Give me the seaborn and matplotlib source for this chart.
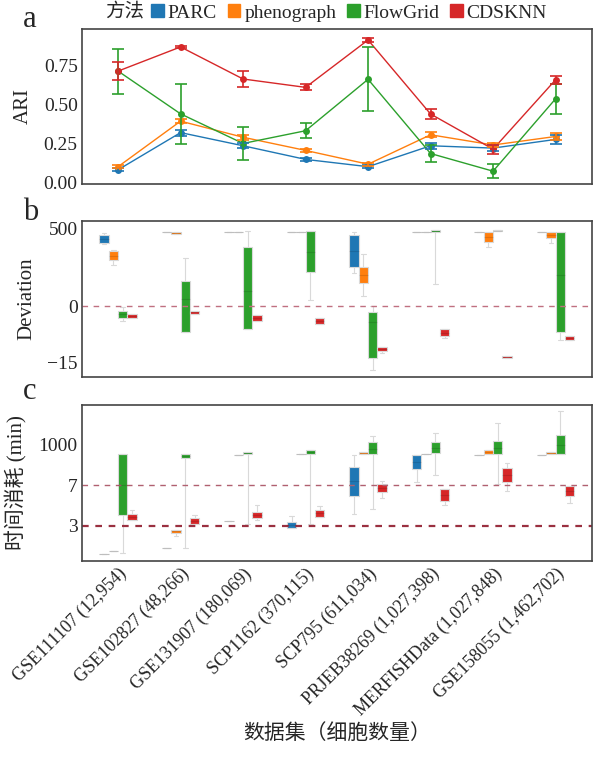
import numpy as np
import pandas as pd
import seaborn as sns
import matplotlib.pyplot as plt
from matplotlib.patches import Patch

datasets = ["GSE111107 (12,954)", "GSE102827 (48,266)", "GSE131907 (180,069)",
            "SCP1162 (370,115)", "SCP795 (611,034)", "PRJEB38269 (1,027,398)",
            "MERFISHData (1,027,848)", "GSE158055 (1,462,702)"]
methods = ["PARC", "phenograph", "FlowGrid", "CDSKNN"]
colors = ["#1f77b4", "#ff7f0e", "#2ca02c", "#d62728"]

# panel a: ARI mean and error
ari_parc = [0.08, 0.32, 0.235, 0.147, 0.10, 0.235, 0.22, 0.276]
ari_pheno = [0.10, 0.394, 0.29, 0.205, 0.116, 0.306, 0.24, 0.295]
ari_flow = [0.717, 0.441, 0.25, 0.332, 0.664, 0.185, 0.071, 0.538]
ari_cds = [0.717, 0.873, 0.666, 0.612, 0.918, 0.44, 0.213, 0.661]
err_parc = [0.01, 0.02, 0.015, 0.01, 0.01, 0.02, 0.02, 0.03]
err_pheno = [0.01, 0.015, 0.015, 0.01, 0.01, 0.015, 0.015, 0.025]
err_flow = [0.145, 0.195, 0.107, 0.05, 0.207, 0.054, 0.047, 0.095]
err_cds = [0.058, 0.007, 0.054, 0.02, 0.015, 0.033, 0.03, 0.027]

# panel b: deviation, [min, q1, median, q3, max] per dataset
dev_parc = [[405, 407, 434, 461, 472], [478] * 5, [481] * 5, [481] * 5,
            [216, 256, 360, 461, 478], [481] * 5, [481] * 5, [481] * 5]
dev_pheno = [[265, 297, 326, 355, 366], [470, 470, 474, 478, 478], [480] * 5, [480] * 5,
             [69, 153, 203, 252, 338], [478] * 5, [384, 416, 450, 481, 481],
             [410, 442, 462, 481, 481]]
dev_flow = [[-4.0, -3.05, -2.1, -1.24, -0.2], [-7.0, -7.0, 50, 164, 313],
            [-6.1, -6.1, 100, 381, 485], [43, 222, 350, 484, 484],
            [-17.1, -14.0, -4.2, -1.52, 0], [145, 478, 485, 493, 493],
            [484, 484, 488, 493, 493], [-9.0, -6.8, 200, 481, 481]]
dev_cds = [[-3.05, -3.05, -2.5, -2.05, -2.05], [-1.97, -1.97, -1.65, -1.35, -1.35],
           [-3.95, -3.95, -3.1, -2.3, -2.3], [-4.86, -4.86, -3.9, -3.05, -3.05],
           [-12.6, -12.0, -11.5, -10.95, -10.95], [-8.6, -8.1, -7.1, -6.2, -6.2],
           [-14.0, -14.0, -13.6, -13.3, -13.3], [-9.1, -9.1, -8.5, -8.0, -8.0]]

# panel c: time, axis position units, [min, q1, median, q3, max]
time_parc = [[0.305] * 5, [0.447] * 5, [1.1] * 5, [0.935, 0.935, 1.01, 1.084, 1.24],
             [1.29, 1.72, 2.1, 2.449, 2.754], [2.09, 2.4, 2.57, 2.747, 2.747],
             [2.747] * 5, [2.747] * 5]
time_pheno = [[0.372] * 5, [0.744, 0.819, 0.856, 0.893, 0.893], [2.754] * 5, [2.762] * 5,
              [2.762, 2.762, 2.79, 2.829, 2.829], [2.78] * 5,
              [2.78, 2.78, 2.82, 2.871, 2.871], [2.772, 2.772, 2.8, 2.829, 2.829]]
time_flow = [[0.33, 1.258, 2.0, 2.762, 2.762], [0.454, 2.672, 2.72, 2.772, 2.772],
             [1.035, 2.762, 2.8, 2.829, 2.829], [1.04, 2.762, 2.81, 2.86, 2.86],
             [1.42, 2.762, 2.9, 3.07, 3.226], [2.26, 2.786, 2.93, 3.08, 3.29],
             [2.03, 2.772, 2.93, 3.084, 3.54], [2.762, 2.762, 3.0, 3.25, 3.83]]
time_cds = [[1.149, 1.149, 1.22, 1.283, 1.39], [1.05, 1.05, 1.12, 1.184, 1.266],
            [1.14, 1.199, 1.27, 1.347, 1.506], [1.216, 1.216, 1.3, 1.39, 1.49],
            [1.69, 1.819, 1.92, 2.027, 2.11], [1.51, 1.61, 1.76, 1.91, 1.91],
            [1.86, 2.08, 2.25, 2.42, 2.55], [1.556, 1.72, 1.85, 1.98, 1.98]]

sns.set_style("white")
plt.rcParams["font.family"] = ["Liberation Serif", "Noto Sans CJK SC"]
plt.rcParams["axes.unicode_minus"] = True

ari_df = pd.DataFrame({
    "idx": list(range(8)) * 4,
    "ARI": ari_parc + ari_pheno + ari_flow + ari_cds,
    "err": err_parc + err_pheno + err_flow + err_cds,
    "method": np.repeat(methods, 8),
})


def long_box(groups):
    rows = []
    for m, g in zip(methods, groups):
        for d, vals in zip(datasets, g):
            for v in vals:
                rows.append((d, m, v))
    return pd.DataFrame(rows, columns=["dataset", "method", "value"])


dev_df = long_box([dev_parc, dev_pheno, dev_flow, dev_cds])
time_df = long_box([time_parc, time_pheno, time_flow, time_cds])

fig = plt.figure(figsize=(5.93, 7.58), dpi=100)
ax_a = fig.add_axes([0.138, 0.757, 0.860, 0.205])
ax_b = fig.add_axes([0.138, 0.503, 0.860, 0.206])
ax_c = fig.add_axes([0.138, 0.260, 0.860, 0.206])

# a
sns.lineplot(data=ari_df, x="idx", y="ARI", hue="method", hue_order=methods,
             palette=colors, marker="o", markersize=5, markeredgewidth=0,
             linewidth=1, legend=False, ax=ax_a)
for m, c in zip(methods, colors):
    sub = ari_df[ari_df["method"] == m]
    ax_a.errorbar(sub["idx"], sub["ARI"], yerr=sub["err"], fmt="none",
                  ecolor=c, elinewidth=1.2, capsize=4, capthick=1.2)
ax_a.set_xlim(-0.58, 7.58)
ax_a.set_ylim(-0.013, 0.99)
ax_a.set_yticks([0, 0.25, 0.5, 0.75])
ax_a.set_yticklabels(["0.00", "0.25", "0.50", "0.75"])
ax_a.set_xticks([])
ax_a.set_xlabel("")
ax_a.set_ylabel("ARI", fontsize=15, labelpad=8)

box_kw = dict(x="dataset", y="value", hue="method", hue_order=methods,
              palette=colors, width=0.6, gap=0, whis=(0, 100), saturation=1,
              linecolor="#d9d9d9", linewidth=0.8, legend=False,
              medianprops=dict(color="black", alpha=0.12))

# b
sns.boxplot(data=dev_df, ax=ax_b, **box_kw)


def fwd(v):
    v = np.asarray(v, dtype=float)
    return np.where(v >= 0, v / 500 * 77.4, v / 15 * 55.6)


def inv(p):
    p = np.asarray(p, dtype=float)
    return np.where(p >= 0, p * 500 / 77.4, p * 15 / 55.6)


ax_b.set_yscale("function", functions=(fwd, inv))
ax_b.set_ylim(-18.96, 553.6)
ax_b.set_yticks([-15, 0, 500])
ax_b.set_yticklabels(["\u221215", "0", "500"])
ax_b.axhline(0, color="#c07080", lw=1, ls=(0, (4, 4)))
ax_b.set_xlim(-0.58, 7.58)
ax_b.set_xticks([])
ax_b.set_xlabel("")
ax_b.set_ylabel("Deviation", fontsize=15, labelpad=8)

# c
sns.boxplot(data=time_df, ax=ax_c, **box_kw)
ax_c.axhline(2, color="#b06070", lw=1, ls=(0, (4, 4)))
ax_c.axhline(1, color="#9a3040", lw=1.6, ls=(0, (3, 3)))
ax_c.set_ylim(0.124, 3.99)
ax_c.set_yticks([1, 2, 3])
ax_c.set_yticklabels(["3", "7", "1000"])
ax_c.set_xlim(-0.58, 7.58)
ax_c.set_xticks(range(8))
ax_c.set_xticklabels(datasets, rotation=45, ha="right", rotation_mode="anchor",
                     fontsize=13)
ax_c.set_ylabel("时间消耗 (min)", fontsize=15, labelpad=8)
ax_c.set_xlabel("数据集（细胞数量）", fontsize=15)

for ax in (ax_a, ax_b, ax_c):
    for s in ax.spines.values():
        s.set_color("#444444")
        s.set_linewidth(1.2)
    ax.tick_params(axis="both", length=0, labelsize=14, pad=3)
ax_c.tick_params(axis="x", labelsize=13)
fig.align_ylabels([ax_a, ax_b, ax_c])

fig.text(0.039, 0.965, "a", fontsize=22)
fig.text(0.039, 0.710, "b", fontsize=22)
fig.text(0.039, 0.474, "c", fontsize=22)

fig.text(0.177, 0.983, "方法", fontsize=14, va="center")
handles = [Patch(color=c, label=m) for m, c in zip(methods, colors)]
fig.legend(handles=handles, loc="center left", bbox_to_anchor=(0.255, 0.983),
           ncol=4, frameon=False, fontsize=14, handlelength=0.65, handleheight=0.65,
           handletextpad=0.2, columnspacing=0.55, borderpad=0, borderaxespad=0)

fig.savefig("out.png", dpi=100)
